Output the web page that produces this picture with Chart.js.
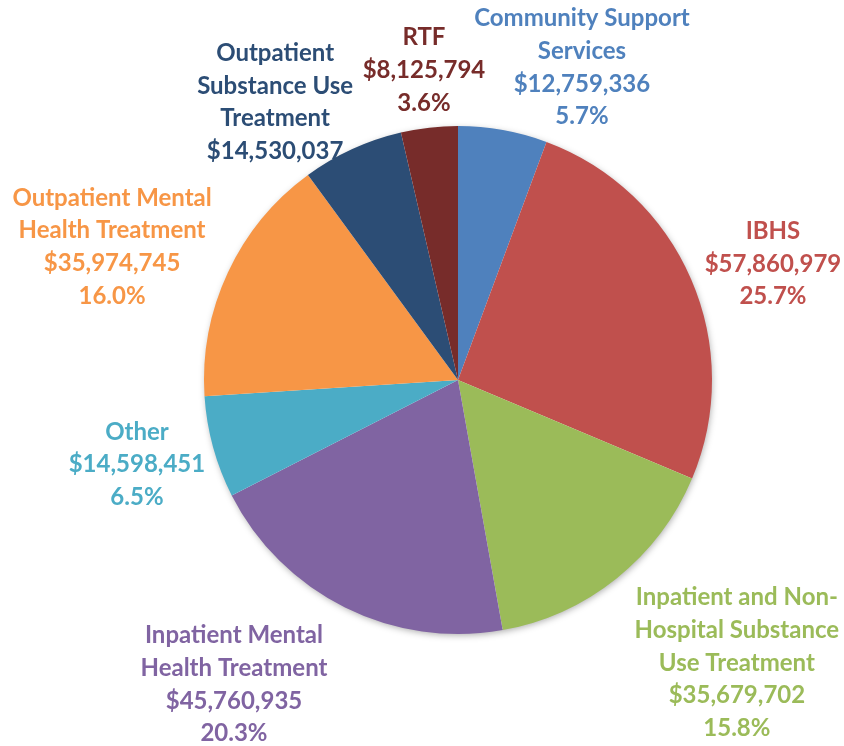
<!DOCTYPE html>
<html>
<head>
<meta charset="utf-8">
<script src="https://cdn.jsdelivr.net/npm/chart.js@4.4.0/dist/chart.umd.min.js"></script>
<style>
  html, body { margin: 0; padding: 0; background: #fff; }
  #wrap { width: 844px; height: 746px; }
</style>
</head>
<body>
<div id="wrap"><canvas id="pieChart" width="844" height="746"></canvas></div>
<script>
// --- data ---
const categories = [
    ['Community Support', 'Services'],
    ['IBHS'],
    ['Inpatient and Non-', 'Hospital Substance', 'Use Treatment'],
    ['Inpatient Mental', 'Health Treatment'],
    ['Other'],
    ['Outpatient Mental', 'Health Treatment'],
    ['Outpatient', 'Substance Use', 'Treatment'],
    ['RTF']
];
const amounts = [12759336, 57860979, 35679702, 45760935, 14598451, 35974745, 14530037, 8125794];
const percentLabels = ['5.7%', '25.7%', '15.8%', '20.3%', '6.5%', '16.0%', null, '3.6%'];

// slice colours (office-like)
const sliceColors = ['#4F81BD', '#C0504D', '#9BBB59', '#8064A2', '#4BACC6', '#F79646', '#2C4D75', '#772C2A'];

// label block centre, relative to pie centre in units of radius
const labelOffsets = [
    [0.488, -1.230],
    [1.240, -0.457],
    [1.098, 1.114],
    [-0.882, 1.199],
    [-1.264, 0.333],
    [-1.362, -0.524],
    [-0.720, -1.093],
    [-0.134, -1.219]
];

const LINE_H = 32.7;
const FONT = "bold 24px Lato, 'Open Sans', sans-serif";

function fmtMoney(v) {
    return '$' + v.toLocaleString('en-US');
}

// shadow under the pie
const pieShadow = {
    id: 'pieShadow',
    beforeDatasetsDraw(chart) {
        const arc = chart.getDatasetMeta(0).data[0];
        if (!arc) return;
        const ctx = chart.ctx;
        ctx.save();
        ctx.shadowColor = 'rgba(0,0,0,0.35)';
        ctx.shadowBlur = 7;
        ctx.shadowOffsetX = 1;
        ctx.shadowOffsetY = 2;
        ctx.fillStyle = '#ffffff';
        ctx.beginPath();
        ctx.arc(arc.x, arc.y, arc.outerRadius - 1, 0, Math.PI * 2);
        ctx.fill();
        ctx.restore();
    }
};

// outside labels
const outsideLabels = {
    id: 'outsideLabels',
    afterDatasetsDraw(chart) {
        const meta = chart.getDatasetMeta(0);
        const ctx = chart.ctx;
        ctx.save();
        ctx.font = FONT;
        ctx.textAlign = 'center';
        ctx.textBaseline = 'middle';
        meta.data.forEach((arc, i) => {
            const lines = categories[i].slice();
            lines.push(fmtMoney(amounts[i]));
            if (percentLabels[i]) lines.push(percentLabels[i]);
            const cx = arc.x + labelOffsets[i][0] * arc.outerRadius;
            const cy = arc.y + labelOffsets[i][1] * arc.outerRadius;
            const top = cy - (lines.length - 1) * LINE_H / 2;
            ctx.fillStyle = sliceColors[i];
            lines.forEach((ln, k) => ctx.fillText(ln, cx, top + k * LINE_H));
        });
        ctx.restore();
    }
};

new Chart(document.getElementById('pieChart'), {
    type: 'pie',
    data: {
        labels: categories.map(c => c.join(' ')),
        datasets: [{
            data: amounts,
            backgroundColor: sliceColors,
            borderWidth: 0
        }]
    },
    options: {
        responsive: false,
        animation: false,
        layout: { padding: { left: 204, right: 132, top: 126, bottom: 112 } },
        plugins: {
            legend: { display: false },
            tooltip: { enabled: false }
        }
    },
    plugins: [pieShadow, outsideLabels]
});
</script>
</body>
</html>
